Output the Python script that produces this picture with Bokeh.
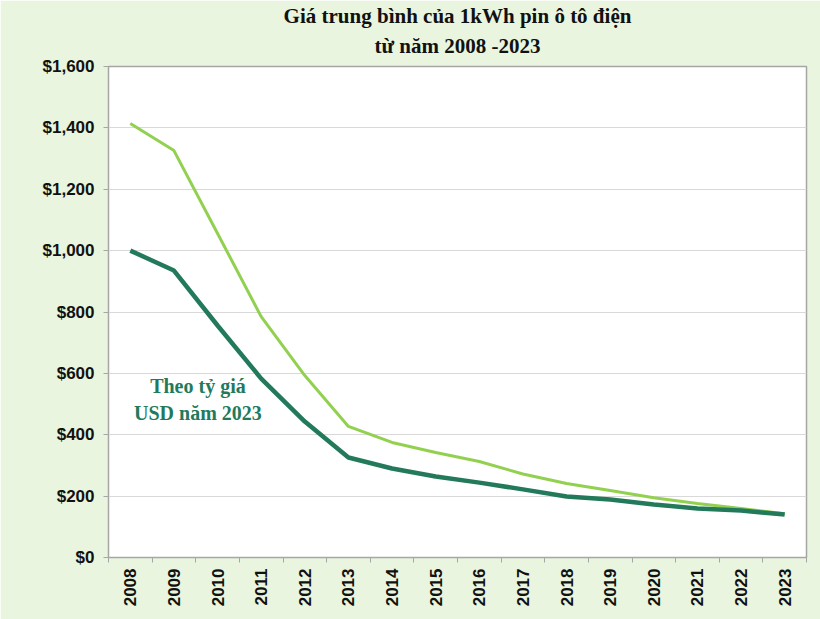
from bokeh.plotting import figure
from bokeh.models import Range1d, FixedTicker, NumeralTickFormatter, Label, Title
from bokeh.embed import file_html
from bokeh.resources import INLINE
from math import pi

years = ["2008", "2009", "2010", "2011", "2012", "2013", "2014", "2015",
         "2016", "2017", "2018", "2019", "2020", "2021", "2022", "2023"]
price_2023_usd = [1414, 1326, 1056, 785, 593, 427, 375, 342, 313, 272, 241, 218, 195, 176, 160, 143]
price_nominal = [1000, 935, 756, 583, 443, 326, 290, 264, 244, 222, 199, 189, 173, 160, 153, 140]
y_ticks = [0, 200, 400, 600, 800, 1000, 1200, 1400, 1600]

title_line1 = "Giá trung bình của 1kWh pin ô tô điện"
title_line2 = "từ năm 2008 -2023"
note_text = "Theo tỷ giá\nUSD năm 2023"

bg = "#e9f5de"
light = "#92d050"
dark = "#237a5b"

xs = list(range(len(years)))

p = figure(width=820, height=619, output_backend="svg", toolbar_location=None,
           x_range=Range1d(-0.5, len(years) - 0.5), y_range=Range1d(0, 1600),
           min_border_left=108, min_border_right=14, min_border_top=66, min_border_bottom=62)
p.border_fill_color = bg
p.background_fill_color = "white"
p.outline_line_color = "#a6a6a6"
p.outline_line_width = 1.5

def style_title(t):
    t.align = "center"
    t.text_font = "Liberation Serif"
    t.text_font_style = "bold"
    t.text_font_size = "21px"
    t.text_color = "#111111"

p.title.text = title_line1
style_title(p.title)
p.title.standoff = -10
t2 = Title(text=title_line2)
style_title(t2)
t2.standoff = 18
p.add_layout(t2, "above")

p.line(xs, price_2023_usd, line_color=light, line_width=3)
p.line(xs, price_nominal, line_color=dark, line_width=4.5)

p.xgrid.visible = False
p.ygrid.ticker = FixedTicker(ticks=y_ticks)
p.ygrid.grid_line_color = "#d9d9d9"

xa = p.xaxis[0]
xa.ticker = FixedTicker(ticks=xs, minor_ticks=[i - 0.5 for i in range(len(years) + 1)])
xa.major_label_overrides = {i: y for i, y in enumerate(years)}
xa.major_label_orientation = pi / 2
xa.major_tick_out = 0
xa.major_tick_in = 0
xa.minor_tick_out = 5
xa.minor_tick_in = 0
xa.minor_tick_line_color = "#a6a6a6"
xa.axis_line_color = "#a6a6a6"
xa.major_label_text_font = "Liberation Sans"
xa.major_label_text_font_style = "bold"
xa.major_label_text_font_size = "17px"
xa.major_label_text_color = "#111111"
xa.major_label_standoff = 6

ya = p.yaxis[0]
ya.ticker = FixedTicker(ticks=y_ticks)
ya.formatter = NumeralTickFormatter(format="$0,0")
ya.major_tick_out = 5
ya.major_tick_in = 0
ya.minor_tick_out = 0
ya.minor_tick_in = 0
ya.major_tick_line_color = "#a6a6a6"
ya.axis_line_color = "#a6a6a6"
ya.major_label_text_font = "Liberation Sans"
ya.major_label_text_font_style = "bold"
ya.major_label_text_font_size = "17px"
ya.major_label_text_color = "#111111"
ya.major_label_standoff = 9

note = Label(x=1.55, y=515, text=note_text, text_align="center", text_baseline="middle",
             text_font="Liberation Serif", text_font_style="bold", text_font_size="20px",
             text_color=dark, text_line_height=1.2)
p.add_layout(note)

open("out.html", "w").write(file_html(p, INLINE))
